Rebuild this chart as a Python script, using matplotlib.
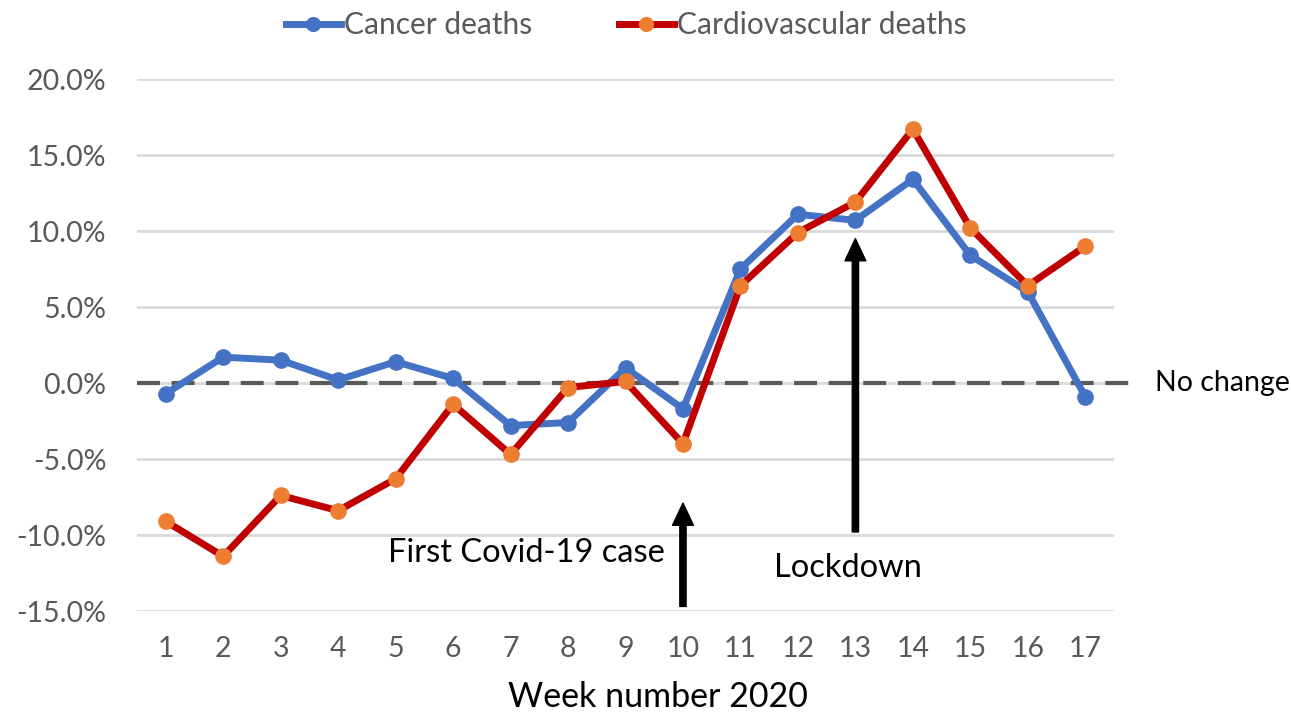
import matplotlib
matplotlib.use("Agg")
import matplotlib.pyplot as plt
from matplotlib.ticker import FuncFormatter

plt.rcParams['font.family'] = ['Lato', 'DejaVu Sans']

weeks = list(range(1, 18))
cancer = [-0.7, 1.7, 1.5, 0.2, 1.4, 0.3, -2.8, -2.6, 1.0, -1.7,
          7.5, 11.1, 10.7, 13.4, 8.4, 6.0, -0.9]
cardio = [-9.1, -11.4, -7.4, -8.4, -6.3, -1.4, -4.7, -0.3, 0.1, -4.0,
          6.4, 9.9, 11.9, 16.7, 10.2, 6.4, 9.0]
yticks = [-15, -10, -5, 0, 5, 10, 15, 20]

gray = '#595959'

fig = plt.figure(figsize=(12.91, 7.14), dpi=100)
ax = fig.add_axes([137 / 1291, 1 - 611 / 714, 977 / 1291, 532 / 714])

ax.set_xlim(0.5, 17.5)
ax.set_ylim(-15, 20)
ax.set_yticks(yticks)
ax.yaxis.set_major_formatter(FuncFormatter(lambda v, p: '%.1f%%' % v))
ax.set_xticks(weeks)
ax.grid(True, axis='y', color='#d9d9d9', lw=2)
ax.set_axisbelow(True)
for s in ax.spines.values():
    s.set_visible(False)
ax.tick_params(length=0, labelsize=20.5, labelcolor=gray)
ax.tick_params(axis='y', pad=22)
ax.tick_params(axis='x', pad=18)

# no change line, runs a bit past the plot area
ax.axhline(0, xmin=0, xmax=1.021, color='#595959', lw=3, ls=(0, (5.5, 2.8)),
           clip_on=False, zorder=2)
ax.text(18.22, 0, 'No change', fontsize=20.5, va='center', ha='left', color='black')

ax.plot(weeks, cancer, color='#4472c4', lw=5, marker='o', ms=11,
        mfc='#4472c4', mec='#4472c4', label='Cancer deaths', zorder=3)
ax.plot(weeks, cardio, color='#c00000', lw=5, marker='o', ms=11,
        mfc='#ed7d31', mec='#ed7d31', label='Cardiovascular deaths', zorder=4)

arrow = dict(facecolor='black', edgecolor='black', width=4.5, headwidth=15, headlength=16)
ax.annotate('', xy=(10, -7.9), xytext=(10, -14.7), arrowprops=arrow, zorder=5)
ax.annotate('', xy=(13, 9.5), xytext=(13, -9.8), arrowprops=arrow, zorder=5)
ax.text(9.69, -11.2, 'First Covid-19 case', fontsize=23.5, ha='right', va='center')
ax.text(12.87, -12.2, 'Lockdown', fontsize=23.5, ha='center', va='center')

fig.text(658 / 1291, 1 - 697 / 714, 'Week number 2020', fontsize=24.5,
         ha='center', va='center')

leg = ax.legend(loc='center', bbox_to_anchor=(626 / 1291, 1 - 25 / 714), bbox_transform=fig.transFigure,
                ncol=2, frameon=False, fontsize=21.5, handlelength=1.85, handletextpad=0.1,
                columnspacing=2.9, markerscale=0.9)
for t in leg.get_texts():
    t.set_color(gray)

fig.savefig('out.png', dpi=100)
